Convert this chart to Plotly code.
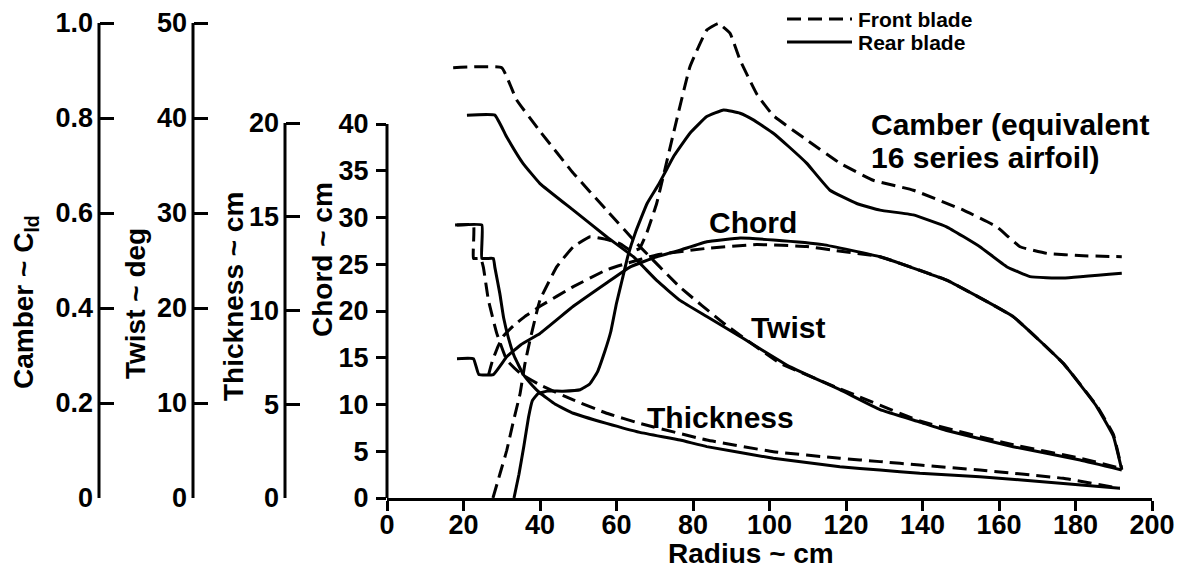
import plotly.graph_objects as go

# ---------------- data ----------------
# Camber (C_ld) vs radius
camber_front_r = [27.7, 29.5, 31.3, 33.0, 34.8, 36.0, 37.4, 40.0, 44.4, 48.7, 53.1, 57.0, 61.0, 64.0,
                  66.0, 68.0, 70.5, 74.9, 79.2, 83.6, 86.6, 89.7, 92.3, 96.7, 101.0, 109.7, 118.4,
                  127.1, 137.6, 150.7, 159.4, 165.5, 172.5, 182.0, 192.1]
camber_front = [0.0, 0.05, 0.10, 0.16, 0.22, 0.28, 0.333, 0.417, 0.487, 0.529, 0.55, 0.545, 0.535, 0.52,
                0.525, 0.56, 0.62, 0.768, 0.908, 0.985, 0.999, 0.978, 0.922, 0.85, 0.805, 0.754, 0.705,
                0.669, 0.648, 0.606, 0.571, 0.529, 0.515, 0.51, 0.508]
camber_rear_r = [33.2, 34.5, 35.8, 37.0, 38.0, 39.5, 42.0, 46.0, 50.5, 53.0, 55.0, 57.0, 58.5, 60.0,
                 61.5, 63.0, 65.0, 68.0, 71.0, 73.0, 75.0, 79.2, 83.6, 88.0, 92.3, 96.0, 101.0, 105.0,
                 109.7, 115.8, 122.8, 128.9, 137.6, 146.3, 155.0, 162.0, 168.1, 176.8, 192.1]
camber_rear = [0.0, 0.05, 0.11, 0.17, 0.205, 0.22, 0.225, 0.225, 0.228, 0.24, 0.265, 0.31, 0.35, 0.41,
               0.46, 0.51, 0.56, 0.62, 0.66, 0.69, 0.72, 0.768, 0.803, 0.817, 0.81, 0.795, 0.768, 0.74,
               0.705, 0.648, 0.62, 0.606, 0.596, 0.571, 0.529, 0.487, 0.466, 0.463, 0.473]

# Twist (deg) vs radius
twist_front_r = [17.3, 30.0, 33.9, 40.0, 48.7, 57.4, 65.3, 76.6, 88.0, 102.7, 118.4, 139.3, 163.7, 181.2, 192.1]
twist_front = [45.3, 45.3, 41.9, 38.6, 34.2, 30.3, 26.8, 22.2, 18.4, 14.2, 11.5, 8.1, 5.6, 4.2, 3.1]
twist_rear_r = [20.9, 28.2, 31.3, 35.6, 40.0, 48.7, 57.4, 64.4, 70.5, 76.6, 83.6, 92.3, 105.4, 118.4,
                128.9, 139.3, 146.3, 163.7, 181.2, 192.1]
twist_rear = [40.3, 40.3, 38.0, 35.2, 33.1, 30.3, 27.5, 25.4, 22.9, 20.8, 19.1, 17.0, 13.8, 11.4,
              9.3, 8.0, 7.1, 5.4, 4.0, 2.95]

# Thickness (cm) vs radius
thick_front_r = [17.8, 22.6, 22.6, 24.5, 25.2, 26.5, 28.7, 31.3, 34.8, 40.0, 48.7, 57.4, 66.1, 83.6,
                 101.0, 118.4, 128.9, 139.3, 155.0, 176.8, 191.6]
thick_front = [14.56, 14.56, 12.78, 12.78, 12.3, 10.56, 8.78, 7.36, 6.65, 6.03, 5.23, 4.52, 3.98, 3.09,
               2.47, 2.12, 1.94, 1.76, 1.49, 1.05, 0.52]
thick_rear_r = [18.3, 24.8, 24.8, 27.8, 28.2, 29.5, 30.5, 31.8, 33.2, 35.6, 38.0, 40.0, 44.0, 48.7,
                57.4, 66.1, 76.6, 83.6, 101.0, 118.4, 128.9, 139.3, 155.0, 176.8, 191.6]
thick_rear = [14.56, 14.56, 12.78, 12.78, 12.3, 10.9, 9.6, 8.5, 7.6, 6.6, 6.0, 5.6, 5.0, 4.52,
              3.98, 3.5, 3.09, 2.74, 2.12, 1.67, 1.49, 1.32, 1.14, 0.78, 0.52]

# Chord (cm) vs radius
chord_front_r = [26.5, 27.5, 29.0, 30.4, 33.0, 36.0, 40.0, 48.7, 57.4, 62.7, 70.5, 83.6, 96.7, 109.7,
                 116.7, 128.9, 146.3, 163.7, 176.8, 185.5, 189.9, 192.1]
chord_front = [13.1, 14.6, 16.2, 17.3, 18.4, 19.4, 20.5, 22.6, 24.4, 25.1, 26.0, 26.7, 27.1, 26.9,
               26.5, 25.8, 23.3, 19.4, 14.4, 9.9, 6.8, 3.1]
chord_rear_r = [18.3, 22.6, 24.0, 27.8, 31.3, 35.0, 40.0, 48.7, 57.4, 63.5, 70.5, 76.6, 83.6, 92.3,
                101.0, 114.0, 128.9, 146.3, 163.7, 176.8, 185.5, 189.9, 192.1]
chord_rear = [14.9, 14.9, 13.2, 13.2, 15.1, 16.4, 17.6, 20.5, 23.0, 24.7, 25.8, 26.5, 27.4, 27.8,
              27.6, 27.1, 25.8, 23.3, 19.4, 14.4, 9.8, 6.6, 3.0]

x_ticks = list(range(0, 201, 20))
chord_ticks = list(range(0, 41, 5))
thick_ticks = [0, 5, 10, 15, 20]
twist_ticks = [0, 10, 20, 30, 40, 50]
camber_ticks = [0, 0.2, 0.4, 0.6, 0.8, 1.0]
camber_ticktext = ["0", "0.2", "0.4", "0.6", "0.8", "1.0"]

# ---------------- layout geometry ----------------
# the page body adds an 8 px margin, so the figure is 8 px smaller on each side
OFF = 8
W, H = 1192 - OFF, 570 - OFF
ML, MR, MT, MB = 20 - OFF, 40, 15 - OFF, 72
PW, PH = W - ML - MR, H - MT - MB
X0_PAGE = ML + OFF              # page x of the plot's left edge
YB_PAGE = H - MB + OFF          # page y of the plot's bottom edge


def px(x):
    return (x - X0_PAGE) / PW


def py(y):
    return (YB_PAGE - y) / PH


FONT = "Liberation Sans, Arial, sans-serif"
BLK = "black"
DASH = "14px,7px"
LW = 3

fig = go.Figure()


def add(r, v, axis, dashed):
    fig.add_trace(go.Scatter(
        x=r, y=v, yaxis=axis, mode="lines", showlegend=False, hoverinfo="skip",
        line=dict(color=BLK, width=LW, dash=DASH if dashed else "solid",
                  shape="spline", smoothing=0.3)))


add(camber_front_r, camber_front, "y4", True)
add(camber_rear_r, camber_rear, "y4", False)
add(twist_front_r, twist_front, "y3", True)
add(twist_rear_r, twist_rear, "y3", False)
add(thick_front_r, thick_front, "y2", True)
add(thick_rear_r, thick_rear, "y2", False)
add(chord_front_r, chord_front, "y", True)
add(chord_rear_r, chord_rear, "y", False)

tickfont = dict(family=FONT, size=27, color=BLK, weight="bold")

pos_chord = px(387)
pos_thick = px(285)
pos_twist = px(193)
pos_camber = px(99)

common_y = dict(showgrid=False, zeroline=False, showline=False, tickfont=tickfont,
                tickcolor=BLK, tickwidth=3, fixedrange=True, automargin=False)

fig.update_layout(
    width=W, height=H,
    margin=dict(l=ML, r=MR, t=MT, b=MB, autoexpand=False),
    plot_bgcolor="white", paper_bgcolor="white",
    font=dict(family=FONT, color=BLK),
    xaxis=dict(domain=[pos_chord, 1.0], range=[0, 200], tickvals=x_ticks,
               ticks="outside", ticklen=10, tickwidth=3, tickcolor=BLK,
               showline=True, linewidth=3, linecolor=BLK, showgrid=False,
               zeroline=False, tickfont=tickfont, anchor="y", automargin=False,
               fixedrange=True, ticklabelstandoff=-9),
    yaxis=dict(range=[0, 40 * PH / 374], tickvals=chord_ticks, ticks="outside",
               ticklen=10, anchor="x", ticklabelstandoff=2, **common_y),
    yaxis2=dict(range=[0, 20 * PH / 375], tickvals=thick_ticks, ticks="inside",
                ticklen=14, overlaying="y", anchor="free", position=pos_thick,
                side="left", ticklabelstandoff=6, **common_y),
    yaxis3=dict(range=[0, 50 * PH / 475], tickvals=twist_ticks, ticks="inside",
                ticklen=14, overlaying="y", anchor="free", position=pos_twist,
                side="left", ticklabelstandoff=6, **common_y),
    yaxis4=dict(range=[0, PH / 475], tickvals=camber_ticks, ticktext=camber_ticktext,
                ticks="inside", ticklen=14, overlaying="y", anchor="free",
                position=pos_camber, side="left", ticklabelstandoff=6, **common_y),
)

# axis lines (only over the labelled span of each scale)
shapes = [
    dict(type="line", xref="paper", yref="y", x0=pos_chord, x1=pos_chord, y0=0, y1=40),
    dict(type="line", xref="paper", yref="y2", x0=pos_thick, x1=pos_thick, y0=0, y1=20),
    dict(type="line", xref="paper", yref="y3", x0=pos_twist, x1=pos_twist, y0=0, y1=50),
    dict(type="line", xref="paper", yref="y4", x0=pos_camber, x1=pos_camber, y0=0, y1=1.0),
]
for s in shapes:
    s["line"] = dict(color=BLK, width=3)

# legend samples
LEG_Y1, LEG_Y2 = 19, 42
shapes.append(dict(type="line", xref="paper", yref="paper", x0=px(787), x1=px(852),
                   y0=py(LEG_Y1), y1=py(LEG_Y1), line=dict(color=BLK, width=LW, dash=DASH)))
shapes.append(dict(type="line", xref="paper", yref="paper", x0=px(787), x1=px(852),
                   y0=py(LEG_Y2), y1=py(LEG_Y2), line=dict(color=BLK, width=LW)))
fig.update_layout(shapes=shapes)


def note(text, x, y, size=30, angle=0, xanchor="center"):
    fig.add_annotation(text=text, xref="paper", yref="paper", x=px(x), y=py(y),
                       xanchor=xanchor, yanchor="middle", showarrow=False,
                       textangle=angle, borderpad=0,
                       font=dict(family=FONT, size=size, color=BLK, weight="bold"))


note("Front blade", 857, LEG_Y1, size=21, xanchor="left")
note("Rear blade", 857, LEG_Y2, size=21, xanchor="left")
note("Camber (equivalent", 870, 125, xanchor="left")
note("16 series airfoil)", 870, 158, xanchor="left")
note("Chord", 753, 223)
note("Twist", 788, 328)
note("Thickness", 720, 417)
note("Radius ~ cm", 751, 553, size=28)
note("Camber ~ C<sub>ld</sub>", 25, 302, size=28, angle=-90)
note("Twist ~ deg", 135, 304, size=28, angle=-90)
note("Thickness ~ cm", 233, 297, size=28, angle=-90)
note("Chord ~ cm", 322, 260, size=28, angle=-90)

fig.write_html("out.html")
